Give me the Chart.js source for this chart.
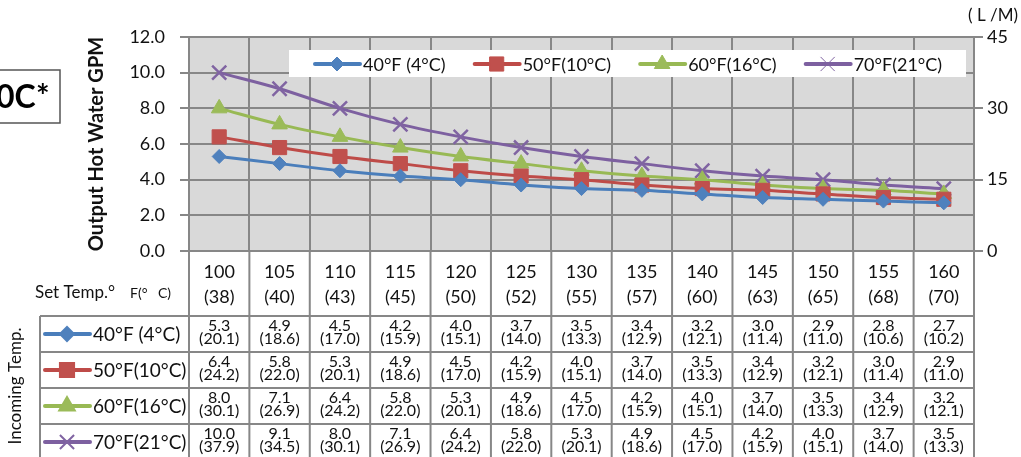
<!DOCTYPE html>
<html>
<head>
<meta charset="utf-8">
<script src="https://cdn.jsdelivr.net/npm/chart.js@4.4.1/dist/chart.umd.min.js"></script>
<style>
  body { margin: 0; background: #fff; }
</style>
</head>
<body>
<canvas id="gpmChart" width="1021" height="457"></canvas>
<script>
// Set temperatures (x axis)
const setTempF = [100, 105, 110, 115, 120, 125, 130, 135, 140, 145, 150, 155, 160];
const setTempC = [38, 40, 43, 45, 50, 52, 55, 57, 60, 63, 65, 68, 70];

// Incoming temperature series
const seriesNames = ['40°F (4°C)', '50°F(10°C)', '60°F(16°C)', '70°F(21°C)'];

// Output hot water, GPM
const gpm40 = [5.3, 4.9, 4.5, 4.2, 4.0, 3.7, 3.5, 3.4, 3.2, 3.0, 2.9, 2.8, 2.7];
const gpm50 = [6.4, 5.8, 5.3, 4.9, 4.5, 4.2, 4.0, 3.7, 3.5, 3.4, 3.2, 3.0, 2.9];
const gpm60 = [8.0, 7.1, 6.4, 5.8, 5.3, 4.9, 4.5, 4.2, 4.0, 3.7, 3.5, 3.4, 3.2];
const gpm70 = [10.0, 9.1, 8.0, 7.1, 6.4, 5.8, 5.3, 4.9, 4.5, 4.2, 4.0, 3.7, 3.5];

// Same values in L/M
const lpm40 = [20.1, 18.6, 17.0, 15.9, 15.1, 14.0, 13.3, 12.9, 12.1, 11.4, 11.0, 10.6, 10.2];
const lpm50 = [24.2, 22.0, 20.1, 18.6, 17.0, 15.9, 15.1, 14.0, 13.3, 12.9, 12.1, 11.4, 11.0];
const lpm60 = [30.1, 26.9, 24.2, 22.0, 20.1, 18.6, 17.0, 15.9, 15.1, 14.0, 13.3, 12.9, 12.1];
const lpm70 = [37.9, 34.5, 30.1, 26.9, 24.2, 22.0, 20.1, 18.6, 17.0, 15.9, 15.1, 14.0, 13.3];

const gpmSeries = [gpm40, gpm50, gpm60, gpm70];
const lpmSeries = [lpm40, lpm50, lpm60, lpm70];

const lineColors = ['#4a7ebb', '#be4b48', '#98b954', '#7d60a0'];
const markColors = ['#4f81bd', '#c0504d', '#9bbb59', '#8064a2'];
const markStyles = ['rectRot', 'rect', 'triangle', 'crossRot'];
const markRadius = [7, 10, 9, 10];

const FONT = 'Lato, "Open Sans", sans-serif';
const TEXT = '#111';
const GRID = '#878787';

Chart.defaults.font.family = FONT;
Chart.defaults.color = TEXT;

function drawMarker(ctx, i, x, y) {
    ctx.save();
    ctx.fillStyle = markColors[i];
    ctx.strokeStyle = markColors[i];
    Chart.helpers.drawPoint(ctx, {
        pointStyle: markStyles[i],
        radius: markRadius[i],
        rotation: 0,
        borderWidth: markStyles[i] === 'crossRot' ? 2.5 : 1
    }, x, y);
    ctx.restore();
}

function drawKey(ctx, i, x, y) {
    ctx.save();
    ctx.strokeStyle = lineColors[i];
    ctx.lineWidth = 4;
    ctx.lineCap = 'round';
    ctx.beginPath();
    ctx.moveTo(x, y);
    ctx.lineTo(x + 45, y);
    ctx.stroke();
    ctx.restore();
    drawMarker(ctx, i, x + 22, y);
}

const tablePlugin = {
    id: 'tempTable',
    beforeDraw(chart) {
        const { ctx, chartArea: a } = chart;
        ctx.save();
        ctx.fillStyle = '#d9d9d9';
        ctx.fillRect(a.left, a.top, a.right - a.left, a.bottom - a.top);
        ctx.restore();
    },
    afterDraw(chart) {
        const { ctx, chartArea: a } = chart;
        const xs = chart.scales.x;
        const colW = xs.getPixelForValue(1) - xs.getPixelForValue(0);

        // legend inside the plot
        ctx.save();
        ctx.fillStyle = '#fff';
        const lx = a.left + 100, ly = a.top + 13;
        ctx.fillRect(lx, ly, a.right - 8 - lx, 27);
        ctx.font = '18px ' + FONT;
        ctx.fillStyle = TEXT;
        ctx.textBaseline = 'middle';
        let x = lx + 26;
        const cy = ly + 14;
        seriesNames.forEach((name, i) => {
            drawKey(ctx, i, x, cy);
            ctx.fillStyle = TEXT;
            ctx.fillText(name, x + 48, cy + 1);
            x += 48 + ctx.measureText(name).width + 29;
        });
        ctx.restore();

        // right axis unit
        ctx.save();
        ctx.font = '17px ' + FONT;
        ctx.fillStyle = TEXT;
        ctx.textBaseline = 'middle';
        ctx.fillText('( L /M)', 968, 16);
        ctx.restore();

        // boxed title fragment at top left
        ctx.save();
        ctx.strokeStyle = '#555';
        ctx.lineWidth = 1.5;
        ctx.strokeRect(-5, 70, 65, 53);
        ctx.font = 'bold 32px ' + FONT;
        ctx.fillStyle = '#000';
        ctx.textBaseline = 'middle';
        ctx.fillText('0C*', -4, 98);
        ctx.restore();

        // data table
        const top = a.bottom;
        const headBottom = top + 65;
        const rowH = 36;
        const tLeft = 40;
        const bottom = headBottom + rowH * 4 + 10;

        ctx.save();
        ctx.fillStyle = '#fff';
        ctx.fillRect(a.left, top + 1, a.right - a.left, headBottom - top);
        ctx.strokeStyle = GRID;
        ctx.lineWidth = 2;
        ctx.beginPath();
        for (let c = 0; c <= setTempF.length; c++) {
            const bx = xs.getPixelForValue(c) - colW / 2;
            ctx.moveTo(bx, top);
            ctx.lineTo(bx, bottom);
        }
        ctx.moveTo(tLeft, headBottom);
        ctx.lineTo(tLeft, bottom);
        for (let r = 0; r < 4; r++) {
            const ry = headBottom + r * rowH;
            ctx.moveTo(tLeft, ry);
            ctx.lineTo(a.right, ry);
        }
        ctx.stroke();

        ctx.fillStyle = TEXT;
        ctx.textAlign = 'center';
        ctx.textBaseline = 'middle';
        ctx.font = '18px ' + FONT;
        setTempF.forEach((f, c) => {
            const cx = xs.getPixelForValue(c);
            ctx.fillText(String(f), cx, top + 21);
            ctx.fillText('(' + setTempC[c] + ')', cx, top + 46);
        });

        ctx.font = '16px ' + FONT;
        gpmSeries.forEach((vals, r) => {
            const ry = headBottom + r * rowH;
            vals.forEach((v, c) => {
                const cx = xs.getPixelForValue(c);
                ctx.fillText(v.toFixed(1), cx, ry + 10);
                ctx.fillText('(' + lpmSeries[r][c].toFixed(1) + ')', cx, ry + 23);
            });
        });

        ctx.textAlign = 'left';
        seriesNames.forEach((name, r) => {
            const ry = headBottom + r * rowH + rowH / 2;
            drawKey(ctx, r, 45, ry);
            ctx.fillStyle = TEXT;
            ctx.font = '19px ' + FONT;
            ctx.fillText(name, 93, ry + 1);
        });

        ctx.font = '17px ' + FONT;
        ctx.fillText('Set Temp.°', 35, top + 42);
        ctx.font = '14px ' + FONT;
        ctx.fillText('F(°', 130, top + 42);
        ctx.fillText('C)', 158, top + 42);

        ctx.translate(16, headBottom + 70);
        ctx.rotate(-Math.PI / 2);
        ctx.textAlign = 'center';
        ctx.font = '17px ' + FONT;
        ctx.fillText('Incoming Temp.', 0, 0);
        ctx.restore();
    }
};

const datasets = gpmSeries.map((vals, i) => ({
    label: seriesNames[i],
    data: vals,
    yAxisID: 'y',
    borderColor: lineColors[i],
    backgroundColor: markColors[i],
    borderWidth: 3,
    tension: 0.35,
    pointStyle: markStyles[i],
    pointRadius: markRadius[i],
    pointBackgroundColor: markColors[i],
    pointBorderColor: markColors[i],
    pointBorderWidth: markStyles[i] === 'crossRot' ? 2.5 : 1
}));

new Chart(document.getElementById('gpmChart'), {
    type: 'line',
    data: {
        labels: setTempF,
        datasets: datasets
    },
    options: {
        responsive: false,
        animation: false,
        layout: {
            padding: { top: 37, left: 85, right: 0, bottom: 0 }
        },
        plugins: {
            legend: { display: false },
            tooltip: { enabled: false }
        },
        scales: {
            x: {
                offset: true,
                grid: {
                    offset: true,
                    color: GRID,
                    lineWidth: 2,
                    drawTicks: false
                },
                border: { color: GRID, width: 2 },
                ticks: { display: false },
                afterFit: function(scale) {
                    scale.height = 206;
                }
            },
            y: {
                position: 'left',
                min: 0,
                max: 12,
                ticks: {
                    stepSize: 2,
                    padding: 15,
                    color: TEXT,
                    font: { size: 18 },
                    callback: function(value) {
                        return value.toFixed(1);
                    }
                },
                grid: { color: GRID, lineWidth: 2, tickLength: 9 },
                border: { color: GRID, width: 2 },
                title: {
                    display: true,
                    text: 'Output Hot Water GPM',
                    color: TEXT,
                    font: { size: 20, weight: 'bold' },
                    padding: { top: 0, bottom: 0 }
                },
                afterFit: function(scale) {
                    scale.width = 104;
                }
            },
            y2: {
                position: 'right',
                min: 0,
                max: 45,
                ticks: {
                    stepSize: 15,
                    padding: 4,
                    color: TEXT,
                    font: { size: 18 }
                },
                grid: { drawOnChartArea: false, color: GRID, lineWidth: 2, tickLength: 9 },
                border: { color: GRID, width: 2 },
                afterFit: function(scale) {
                    scale.width = 47;
                }
            }
        }
    },
    plugins: [tablePlugin]
});
</script>
</body>
</html>
